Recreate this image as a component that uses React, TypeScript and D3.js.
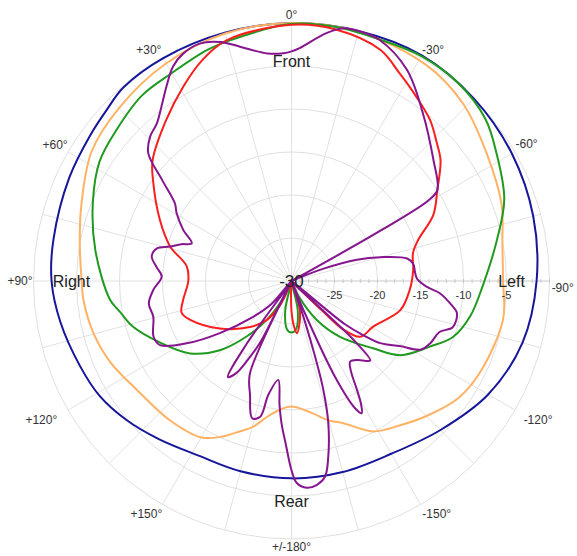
import React from 'react';
import * as d3 from 'd3';

const W = 577;
const H = 556;
const CX = 291.5;
const CY = 281;
const R = 258;

// dB axis
const dbMin = -30;
const dbMax = 0;
const ringLevels = [-25, -20, -15, -10, -5, 0];
const dbTickLabels = [-25, -20, -15, -10, -5];
const minorTicks = d3.range(-30, 1, 1);
const spokeAngles = d3.range(0, 360, 15);

// [label text, placement angle, placement radius]
const angleLabels: [string, number, number][] = [
  ['0°', 0, 266], ['+30°', 31.7, 271.5], ['+60°', 60, 273], ['+90°', 90, 271.5],
  ['+120°', 119, 286], ['+150°', 148, 274], ['+/-180°', 180, 266], ['-150°', -148, 274],
  ['-120°', -119.4, 283], ['-90°', -91.5, 271.3], ['-60°', -59.8, 272], ['-30°', -31.5, 271],
];
const directionLabels: [number, string][] = [[0, 'Front'], [90, 'Right'], [-90, 'Left'], [180, 'Rear']];

// series: [angle (deg, + = counter-clockwise/left), level dB]
const navy: [number, number][] = [
  [-180, -7.05], [-165, -7.0], [-150, -6.8], [-135, -5.5], [-120, -3.6], [-105, -2.2], [-90, -1.5],
  [-75, -0.9], [-60, -0.4], [-45, 0], [-30, 0.3], [-15, 0.1], [0, 0], [15, -0.1], [30, -0.1],
  [41, -0.2], [47, -0.7], [54, -1.1], [65, -1.5], [80, -1.9], [90, -2.1], [100, -2.7], [112, -3.5],
  [121, -4.0], [130, -4.9], [140, -6.0], [152, -7.0], [165, -7.1],
];
const orange: [number, number][] = [
  [-180, -15.4], [-172, -14.6], [-165, -13.2], [-160, -12.4], [-151.5, -10.1], [-143, -9.0],
  [-135, -7.8], [-125, -6.3], [-115, -5.6], [-100, -5.0], [-90, -5.4], [-80, -5.1], [-70, -4.0],
  [-57, -2.9], [-44, -1.3], [-32, -0.4], [-15, 0], [0, 0], [15, -0.2], [30, -0.8], [45, -1.6],
  [57, -2.3], [70, -4.0], [80, -5.0], [90, -5.6], [95, -5.7], [105, -6.2], [114, -6.9], [125, -8.0],
  [139, -8.5], [150, -9.0], [156, -10.2], [161, -11.5], [165, -12.4], [170, -14.0], [175, -15.0],
];
const green: [number, number][] = [
  [-180, -24.0], [-175, -24.3], [-168, -26.5], [-164, -33], [-155, -28], [-147, -24.6],
  [-139, -21.4], [-129.5, -17.7], [-124.3, -14.7], [-115.4, -12.2], [-109, -10.1], [-101, -8.8],
  [-91, -7.7], [-79, -5.7], [-69, -3.5], [-58, -1.9], [-50, -0.6], [-40, 0.1], [-30, 0.2],
  [-20, -0.1], [-10, 0], [0, -0.1], [14, -1.1], [20, -1.4], [30, -2.1], [39, -2.3], [49, -3.1],
  [58, -3.7], [68, -5.1], [81, -6.9], [96, -8.8], [100, -9.7], [106, -10.8], [115, -13.1],
  [125.5, -15.5], [134, -18.4], [141, -21.7], [147.5, -24.6], [155, -28], [162, -33],
  [168, -26.5], [175, -24.3],
];
const red: [number, number][] = [
  [-180, -26.5], [-177, -24.8], [-174, -23.9], [-170, -24.8], [-164, -26.5], [-160, -35],
  [-150, -35], [-138, -33], [-134, -25], [-133, -21.7], [-129, -19.7], [-119, -19.1],
  [-105, -16.9], [-94, -16.2], [-85, -15.8], [-77, -15.5], [-72, -14.5], [-65, -11.8],
  [-58, -10.0], [-51, -7.7], [-46.5, -6.7], [-40.7, -5.3], [-34, -4.1], [-27.6, -2.8],
  [-21, -1.2], [-10, -0.3], [0, -0.2], [15, -1.0], [22, -2.3], [29, -4.1], [38, -6.3],
  [49, -8.6], [54, -10.1], [65, -13.1], [74, -15.3], [82, -17.7], [90, -18.0], [100, -17.2],
  [106, -16.7], [111, -17.4], [123.5, -20.0], [138, -22.8], [147.5, -24.6], [155, -27],
  [160, -35], [170, -35], [176, -31], [178, -28.5],
];
const purple: [number, number][] = [
  [-180, -8.0], [-178.5, -6.5], [-175.8, -5.9], [-173, -6.1], [-170.3, -6.9], [-168.2, -9.1],
  [-165.5, -12.9], [-163.7, -16.8], [-162.5, -21.6], [-161.5, -26], [-159.5, -36], [-157.5, -26],
  [-155.5, -17.5], [-153.5, -13.5], [-152, -12.6], [-150.5, -13.6], [-149, -15.2],
  [-146.5, -17.5], [-144, -18.4], [-140, -18.0], [-137, -17.3], [-135.2, -17.0], [-133.5, -20],
  [-131.5, -36], [-129, -22], [-127, -19.5], [-125, -17.4], [-121, -15.3], [-118, -13.0],
  [-114, -12.3], [-109, -11.8], [-106, -10.5], [-101, -10.4], [-98.5, -11.2], [-94.7, -12.7],
  [-92.4, -14.3], [-89, -15.4], [-86, -15.6], [-82, -15.7], [-79, -16.3], [-75, -19.3],
  [-72, -22], [-69, -26], [-65, -36], [-62, -34], [-60.5, -18], [-59.5, -11.5], [-58, -10.0],
  [-49.5, -8.3], [-38, -5.2], [-28.6, -2.0], [-20, -0.15], [-15, 0.1], [-11.6, 0], [-8, -0.9],
  [-2, -2.9], [0, -3.3], [2, -3.5], [6, -3.4], [12.4, -2.1], [16.6, -1.0], [21, -0.4],
  [25.4, -0.7], [28.9, -1.5], [32.7, -3.1], [36.7, -4.7], [40.5, -5.9], [44.4, -6.5],
  [48.3, -7.7], [52, -10.9], [56.3, -13.7], [59.5, -14.5], [64.8, -16.1], [69.3, -17.6],
  [71.5, -16.5], [74.2, -15.3], [76.4, -13.9], [80, -13.5], [84, -14.2], [88, -14.9],
  [93.7, -13.9], [99, -13.2], [104.5, -13.4], [112, -12.7], [116, -13.0], [120.7, -15.8],
  [126, -19.7], [133, -23.9], [139, -26.5], [143, -36], [144.5, -21], [146.5, -16.6],
  [149, -17.5], [151, -19.5], [153, -22], [154.5, -30], [155.8, -18.2], [160, -15.9],
  [164, -13.4], [167, -13.8], [168.5, -16.5], [172.4, -18.4], [174.5, -15.5], [176, -13.4],
  [178, -11],
];

const seriesList = [
  { key: 'navy', color: '#16169a', data: navy },
  { key: 'orange', color: '#ffb264', data: orange },
  { key: 'green', color: '#1f9a1f', data: green },
  { key: 'red', color: '#fa1e1e', data: red },
  { key: 'purple', color: '#86168e', data: purple },
];

const rScale = d3.scaleLinear().domain([dbMin, dbMax]).range([0, R]);
const toRad = (deg: number) => (-deg * Math.PI) / 180;
const px = (deg: number, r: number) => CX - r * Math.sin((deg * Math.PI) / 180);
const py = (deg: number, r: number) => CY - r * Math.cos((deg * Math.PI) / 180);

const lineGen = d3
  .lineRadial<[number, number]>()
  .angle((d) => toRad(d[0]))
  .radius((d) => rScale(Math.max(d[1], dbMin)))
  .curve(d3.curveCatmullRomClosed.alpha(0.5));

const FONT = '"Liberation Sans", Arial, sans-serif';

export default function App() {
  return (
    <svg
      width={W}
      height={H}
      style={{ position: 'absolute', left: 0, top: 0, background: '#fff' }}
      fontFamily={FONT}
    >
      <rect x={0} y={0} width={W} height={H} fill="#fff" />
      <g>
        {spokeAngles.map((a) => (
          <line key={a} x1={CX} y1={CY} x2={px(a, R)} y2={py(a, R)} stroke="#e2e2e2" strokeWidth={1} />
        ))}
        {ringLevels.map((v) => (
          <circle key={v} cx={CX} cy={CY} r={rScale(v)} fill="none" stroke="#e0e0e0" strokeWidth={1} />
        ))}
        <line x1={CX} y1={CY} x2={CX + R} y2={CY} stroke="#d8d8d8" strokeWidth={1} />
        {minorTicks.map((v) => (
          <line key={v} x1={CX + rScale(v)} x2={CX + rScale(v)} y1={CY - 2} y2={CY + 2} stroke="#c8c8c8" strokeWidth={1} />
        ))}
      </g>
      <g transform={`translate(${CX},${CY})`}>
        {seriesList.map((s) => (
          <path key={s.key} d={lineGen(s.data) || ''} fill="none" stroke={s.color} strokeWidth={2} strokeLinejoin="round" />
        ))}
      </g>
      <g fontSize={11} fill="#333" textAnchor="middle">
        {dbTickLabels.map((v) => (
          <text key={v} x={CX + rScale(v)} y={CY + 14} dy="0.35em">{v}</text>
        ))}
      </g>
      <text x={CX} y={CY} dy="0.35em" textAnchor="middle" fontSize={17} fill="#222">-30</text>
      <g fontSize={16} fill="#222" textAnchor="middle">
        {directionLabels.map(([a, t]) => (
          <text key={t} x={px(a, 220)} y={py(a, 220)} dy="0.35em">{t}</text>
        ))}
      </g>
      <g fontSize={12} fill="#333" textAnchor="middle">
        {angleLabels.map(([t, a, rr]) => (
          <text key={t} x={px(a, rr)} y={py(a, rr)} dy="0.35em">{t}</text>
        ))}
      </g>
    </svg>
  );
}
